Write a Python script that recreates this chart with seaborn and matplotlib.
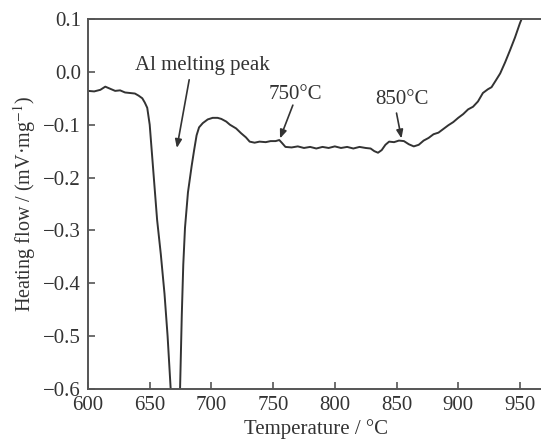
import matplotlib
matplotlib.use("Agg")
import matplotlib.pyplot as plt
import seaborn as sns
import pandas as pd

temperature = [600, 605, 610, 614, 618, 622, 626, 630, 634, 638, 641, 644, 646, 648, 650,
               652, 654, 656, 659, 662, 664.5, 666.5, 668, 671, 673, 674.6, 676, 677.2, 678.6,
               681, 684, 686, 688, 690, 693, 697, 701, 705, 708, 712, 715, 720, 724, 728,
               731, 735, 739, 744, 748, 752, 755, 757, 760, 765, 770, 775, 780, 785, 790,
               795, 800, 805, 810, 815, 820, 825, 829, 832, 835, 838, 841, 844, 848, 852,
               856, 860, 864, 868, 872, 876, 880, 884, 888, 892, 896, 900, 904, 908, 912,
               916, 920, 924, 927, 930, 934, 938, 942, 946, 950, 954]
heat_flow = [-0.036, -0.037, -0.034, -0.028, -0.032, -0.036, -0.035, -0.039, -0.040, -0.041,
             -0.045, -0.050, -0.058, -0.068, -0.100, -0.160, -0.220, -0.280, -0.345, -0.420,
             -0.500, -0.580, -0.640, -0.700, -0.660, -0.600, -0.460, -0.365, -0.295,
             -0.228, -0.178, -0.148, -0.120, -0.105, -0.097, -0.090, -0.087, -0.087, -0.089,
             -0.094, -0.100, -0.107, -0.116, -0.124, -0.132, -0.134, -0.132, -0.133, -0.131,
             -0.131, -0.129, -0.134, -0.142, -0.143, -0.141, -0.144, -0.142, -0.145, -0.142,
             -0.144, -0.141, -0.144, -0.142, -0.145, -0.142, -0.144, -0.145, -0.150, -0.153,
             -0.148, -0.138, -0.132, -0.133, -0.130, -0.131, -0.137, -0.141, -0.138, -0.130,
             -0.125, -0.118, -0.115, -0.108, -0.101, -0.095, -0.087, -0.080, -0.071, -0.066,
             -0.056, -0.040, -0.033, -0.029, -0.018, -0.003, 0.018, 0.041, 0.065, 0.092, 0.115]

x_ticks = [600, 650, 700, 750, 800, 850, 900, 950]
y_ticks = [0.1, 0.0, -0.1, -0.2, -0.3, -0.4, -0.5, -0.6]
y_tick_labels = ["0.1", "0.0", "\u22120.1", "\u22120.2", "\u22120.3", "\u22120.4", "\u22120.5", "\u22120.6"]

annotations = [
    ("Al melting peak", (672, -0.144), (682, -0.015), (692.5, 0.012)),
    ("750\u00b0C", (755.6, -0.126), (766, -0.063), (768, -0.043)),
    ("850\u00b0C", (854, -0.126), (850, -0.078), (854, -0.052)),
]

sns.set_style("ticks")
plt.rcParams["font.family"] = ["Liberation Serif", "DejaVu Serif"]
plt.rcParams["mathtext.fontset"] = "stix"

ink = "#333333"
fig = plt.figure(figsize=(5.41, 4.44), dpi=100)
ax = fig.add_axes([88 / 541, 55 / 444, 456.6 / 541, 370 / 444])

df = pd.DataFrame({"T": temperature, "H": heat_flow})
sns.lineplot(data=df, x="T", y="H", ax=ax, color=ink, linewidth=1.4, estimator=None, sort=False)

ax.set_xlim(600, 970)
ax.set_ylim(-0.6, 0.1)
ax.set_xticks(x_ticks)
ax.set_xticklabels([str(t) for t in x_ticks])
ax.set_yticks(y_ticks)
ax.set_yticklabels(y_tick_labels)

for side in ["left", "bottom", "top", "right"]:
    ax.spines[side].set_color("#555555")
    ax.spines[side].set_linewidth(1.4)
ax.tick_params(axis="both", direction="in", colors="#555555", labelcolor=ink,
               labelsize=15, width=1.2)
ax.tick_params(axis="y", length=5, pad=5)
ax.tick_params(axis="x", length=5, pad=5)

ax.set_xlabel("Temperature / \u00b0C", fontsize=15, color=ink, labelpad=3)
ax.set_ylabel("Heating flow / (mV\u00b7mg$^{-1}$)", fontsize=14.5, color=ink, labelpad=4)

for label, tip, tail, txt in annotations:
    ax.annotate("", xy=tip, xytext=tail,
                arrowprops=dict(arrowstyle="-|>,head_length=0.5,head_width=0.2",
                                color=ink, lw=1.2, shrinkA=0, shrinkB=0))
    ax.text(txt[0], txt[1], label, ha="center", va="center", fontsize=15, color=ink)

fig.savefig("out.png", dpi=100)
